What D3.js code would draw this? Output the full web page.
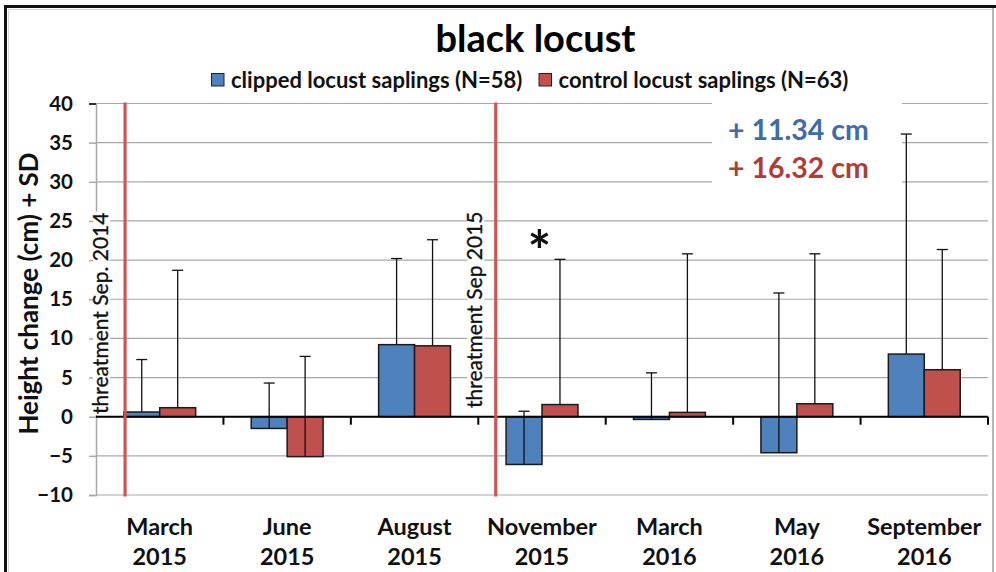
<!DOCTYPE html>
<html>
<head>
<meta charset="utf-8">
<script src="https://cdn.jsdelivr.net/npm/d3@7"></script>
<style>
  html, body { margin: 0; padding: 0; background: #fff; }
  svg { display: block; font-family: Lato, "Open Sans", sans-serif; }
</style>
</head>
<body>
<svg id="chart" width="996" height="572"></svg>
<script>
// ---- data ----
const months = ["March", "June", "August", "November", "March", "May", "September"];
const years  = ["2015", "2015", "2015", "2015", "2016", "2016", "2016"];
const seriesNames = ["clipped locust saplings (N=58)", "control locust saplings (N=63)"];
const clippedMean = [0.6, -1.5, 9.2, -6.1, -0.35, -4.6, 8.0];
const clippedSD   = [6.7, 5.8, 11.0, 6.8, 5.95, 20.4, 28.1];
const controlMean = [1.15, -5.1, 9.05, 1.55, 0.55, 1.65, 6.0];
const controlSD   = [17.55, 12.8, 13.55, 18.55, 20.25, 19.15, 15.35];
const yTicks = [-10, -5, 0, 5, 10, 15, 20, 25, 30, 35, 40];
const treatmentPos = [0.228, 3.137];          // in category units
const treatmentLabels = ["threatment Sep. 2014", "threatment Sep 2015"];
const totals = ["+ 11.34 cm", "+ 16.32 cm"];
const title = "black locust";

const colors = ["#4f81bd", "#c0504d"];
const textColors = ["#3d6ca8", "#b03c39"];

// ---- layout ----
const svg = d3.select("#chart");
const L = 96, R = 988, T = 103.5, B = 495;

const x = d3.scaleBand().domain(d3.range(months.length)).range([L, R]).padding(0);
const xCat = d3.scaleLinear().domain([0, months.length]).range([L, R]);
const xs = d3.scaleBand().domain([0, 1]).range([0.218, 0.782].map(f => f * x.bandwidth()));
const y = d3.scaleLinear().domain([-10, 40]).range([B, T]);

// frame
svg.append("rect").attr("x", 0).attr("y", 0).attr("width", 996).attr("height", 572).attr("fill", "#fff");
svg.append("line").attr("x1", 993).attr("x2", 993).attr("y1", 6).attr("y2", 572).attr("stroke", "#a0a0a0").attr("stroke-width", 1.5);
svg.append("path").attr("d", "M5.5,572 V6.5 H996").attr("fill", "none").attr("stroke", "#111").attr("stroke-width", 3);
svg.append("path").attr("d", "M8.5,572 V9.5 H992").attr("fill", "none").attr("stroke", "#d8d8d8").attr("stroke-width", 1);

// gridlines
svg.append("g").selectAll("line").data(yTicks).join("line")
  .attr("x1", L).attr("x2", R)
  .attr("y1", d => y(d)).attr("y2", d => y(d))
  .attr("stroke", "#a8a8a8").attr("stroke-width", 1.2);

// y axis (gray) with ticks
const yAxis = svg.append("g").attr("transform", `translate(${L},0)`)
  .call(d3.axisLeft(y).tickValues(yTicks).tickSize(7).tickPadding(16).tickFormat(d3.format("d")));
yAxis.select(".domain").attr("stroke", "#a8a8a8").attr("stroke-width", 1.5);
yAxis.selectAll(".tick line").attr("stroke", "#a8a8a8").attr("stroke-width", 1.5);
yAxis.selectAll(".tick").filter(d => d === 40).select("line").attr("stroke", "#000");
yAxis.selectAll(".tick text")
  .attr("font-family", "Lato").attr("font-weight", "bold").attr("font-size", 20.5).attr("fill", "#111");

// white box behind totals
svg.append("rect").attr("x", 712).attr("y", 98).attr("width", 190).attr("height", 87).attr("fill", "#fff");

// treatment labels (with white background)
treatmentPos.forEach((p, i) => {
  const tx = xCat(p) - (i === 0 ? 17 : 13.5);
  const ty = i === 0 ? 414 : 408;
  const g = svg.append("g").attr("transform", `translate(${tx},${ty}) rotate(-90)`);
  const t = g.append("text").attr("x", 0).attr("y", 0)
    .attr("font-family", "Lato").attr("font-size", 21).attr("fill", "#111")
    .attr("stroke", "#111").attr("stroke-width", 0.35)
    .text(treatmentLabels[i]);
  const w = t.node().getComputedTextLength();
  g.insert("rect", "text").attr("x", -1).attr("y", -15).attr("width", w + 2).attr("height", 17).attr("fill", "#fff");
});

// bars
const series = [
  { mean: clippedMean, sd: clippedSD },
  { mean: controlMean, sd: controlSD }
];
series.forEach((s, si) => {
  const g = svg.append("g");
  g.selectAll("rect").data(s.mean).join("rect")
    .attr("x", (d, i) => x(i) + xs(si))
    .attr("width", xs.bandwidth())
    .attr("y", d => y(Math.max(0, d)))
    .attr("height", d => Math.abs(y(d) - y(0)))
    .attr("fill", colors[si]).attr("stroke", "#1a1a1a").attr("stroke-width", 1.5);
});
// error bars
series.forEach((s, si) => {
  const g = svg.append("g").attr("stroke", "#111").attr("stroke-width", 1.3);
  s.mean.forEach((m, i) => {
    const cx = x(i) + xs(si) + xs.bandwidth() / 2;
    g.append("line").attr("x1", cx).attr("x2", cx).attr("y1", y(m)).attr("y2", y(m + s.sd[i]));
    g.append("line").attr("x1", cx - 5.5).attr("x2", cx + 5.5).attr("y1", y(m + s.sd[i])).attr("y2", y(m + s.sd[i]));
  });
});

// zero axis
svg.append("line").attr("x1", L).attr("x2", R).attr("y1", y(0)).attr("y2", y(0))
  .attr("stroke", "#000").attr("stroke-width", 2);
svg.append("g").selectAll("line").data(d3.range(1, months.length + 1)).join("line")
  .attr("x1", d => xCat(d)).attr("x2", d => xCat(d))
  .attr("y1", y(0)).attr("y2", y(0) + 8)
  .attr("stroke", "#000").attr("stroke-width", 2);

// treatment lines
svg.append("g").selectAll("line").data(treatmentPos).join("line")
  .attr("x1", d => xCat(d)).attr("x2", d => xCat(d))
  .attr("y1", T - 1).attr("y2", B + 1.5)
  .attr("stroke", "#cd5552").attr("stroke-width", 3.2);

// category labels
const xl = svg.append("g").attr("font-family", "Lato").attr("font-weight", "bold")
  .attr("font-size", 23.5).attr("fill", "#111").attr("text-anchor", "middle");
months.forEach((m, i) => {
  const cx = x(i) + x.bandwidth() / 2;
  xl.append("text").attr("x", cx).attr("y", 535).text(m);
  xl.append("text").attr("x", cx).attr("y", 565).text(years[i]);
});

// y label
svg.append("text")
  .attr("transform", "translate(37.5,293.5) rotate(-90)")
  .attr("text-anchor", "middle")
  .attr("font-family", "Lato").attr("font-weight", "bold").attr("font-size", 26).attr("fill", "#111")
  .text("Height change (cm) + SD");

// title
svg.append("text").attr("x", 535.5).attr("y", 52).attr("text-anchor", "middle")
  .attr("font-family", "Lato").attr("font-weight", "bold").attr("font-size", 38).attr("fill", "#000")
  .text(title);

// legend
const legX = [211.5, 539];
seriesNames.forEach((n, i) => {
  svg.append("rect").attr("x", legX[i]).attr("y", 73.5).attr("width", 12.5).attr("height", 12.5)
    .attr("fill", colors[i]).attr("stroke", "#222").attr("stroke-width", 1);
  svg.append("text").attr("x", legX[i] + 19.5).attr("y", 87.5)
    .attr("font-family", "Lato").attr("font-weight", "bold").attr("font-size", 22).attr("fill", "#111")
    .text(n);
});

// totals
totals.forEach((t, i) => {
  svg.append("text").attr("x", 728).attr("y", i === 0 ? 140 : 178)
    .attr("font-family", "Lato").attr("font-weight", "bold").attr("font-size", 28.5)
    .attr("fill", textColors[i]).text(t);
});

// significance asterisk
svg.append("text").attr("x", 539.5).attr("y", 271).attr("text-anchor", "middle")
  .attr("font-family", "Lato").attr("font-weight", "bold").attr("font-size", 56).attr("fill", "#111")
  .text("*");
</script>
</body>
</html>
